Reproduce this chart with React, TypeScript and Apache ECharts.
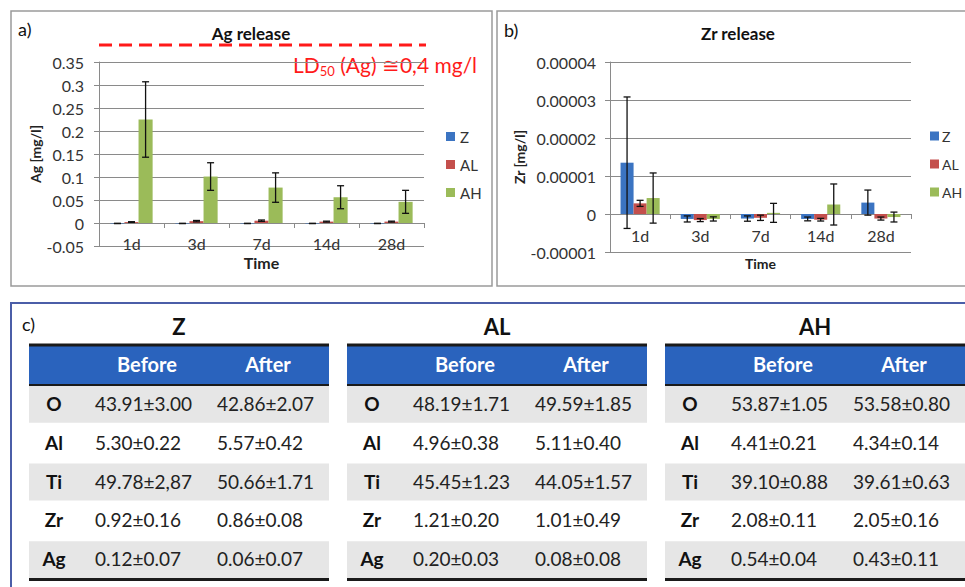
import React, { useEffect, useRef } from "react";
import * as echarts from "echarts";

const FONT = "Lato, 'Liberation Sans', sans-serif";

// ---- Chart data ----
const days = ["1d", "3d", "7d", "14d", "28d"];
const seriesNames = ["Z", "AL", "AH"];
const seriesColors = ["#3B74C2", "#C44F4C", "#9BBB59"];

// Ag release [mg/l]
const agZ = [-0.001, -0.001, -0.001, -0.001, -0.001];
const agZErr = [0.0003, 0.0003, 0.0003, 0.0003, 0.0003];
const agAL = [0.002, 0.004, 0.005, 0.003, 0.003];
const agALErr = [0.0008, 0.0015, 0.0015, 0.001, 0.001];
const agAH = [0.225, 0.101, 0.077, 0.056, 0.046];
const agAHErr = [0.082, 0.03, 0.032, 0.025, 0.025];
const agTicks = { min: -0.05, max: 0.35, interval: 0.05 };
const ld50Value = 0.387;

// Zr release [mg/l]
const zrZ = [1.35e-5, -0.13e-5, -0.12e-5, -0.13e-5, 0.3e-5];
const zrZErr = [1.73e-5, 0.08e-5, 0.07e-5, 0.05e-5, 0.33e-5];
const zrAL = [0.28e-5, -0.16e-5, -0.1e-5, -0.15e-5, -0.12e-5];
const zrALErr = [0.08e-5, 0.04e-5, 0.07e-5, 0.035e-5, 0.04e-5];
const zrAH = [0.42e-5, -0.13e-5, 0.03e-5, 0.25e-5, -0.08e-5];
const zrAHErr = [0.66e-5, 0.055e-5, 0.25e-5, 0.54e-5, 0.13e-5];
const zrTicks = { min: -0.00001, max: 0.00004, interval: 0.00001 };

// ---- Table data ----
const elements = ["O", "Al", "Ti", "Zr", "Ag"];
const tableHeaders = ["Before", "After"];
const tableTitles = ["Z", "AL", "AH"];
const zBefore = ["43.91±3.00", "5.30±0.22", "49.78±2,87", "0.92±0.16", "0.12±0.07"];
const zAfter = ["42.86±2.07", "5.57±0.42", "50.66±1.71", "0.86±0.08", "0.06±0.07"];
const alBefore = ["48.19±1.71", "4.96±0.38", "45.45±1.23", "1.21±0.20", "0.20±0.03"];
const alAfter = ["49.59±1.85", "5.11±0.40", "44.05±1.57", "1.01±0.49", "0.08±0.08"];
const ahBefore = ["53.87±1.05", "4.41±0.21", "39.10±0.88", "2.08±0.11", "0.54±0.04"];
const ahAfter = ["53.58±0.80", "4.34±0.14", "39.61±0.63", "2.05±0.16", "0.43±0.11"];

const GRIDC = "#8a8a8a";
const TXT = "#333";
const CAT_GAP = 0.35;

function errRender(idx: number) {
  return (params: any, api: any) => {
    const c = api.value(0);
    const lo = api.coord([c, api.value(1)]);
    const hi = api.coord([c, api.value(2)]);
    const band = api.size([1, 0])[0];
    const group = band * (1 - CAT_GAP);
    const bw = group / 3;
    const x = lo[0] - group / 2 + bw * (idx + 0.5);
    const cap = 3.5;
    const st = { stroke: "#111", lineWidth: 1.3 };
    return {
      type: "group",
      children: [
        { type: "line", shape: { x1: x, y1: hi[1], x2: x, y2: lo[1] }, style: st },
        { type: "line", shape: { x1: x - cap, y1: hi[1], x2: x + cap, y2: hi[1] }, style: st },
        { type: "line", shape: { x1: x - cap, y1: lo[1], x2: x + cap, y2: lo[1] }, style: st },
      ],
    };
  };
}

function buildSeries(vals: number[][], errs: number[][], gi: number) {
  const out: any[] = [];
  vals.forEach((v, i) => {
    out.push({
      type: "bar",
      name: seriesNames[i],
      xAxisIndex: gi,
      yAxisIndex: gi,
      data: v,
      barGap: "0%",
      barCategoryGap: CAT_GAP * 100 + "%",
      itemStyle: { color: seriesColors[i] },
    });
  });
  vals.forEach((v, i) => {
    out.push({
      type: "custom",
      name: seriesNames[i] + " err" + gi,
      xAxisIndex: gi,
      yAxisIndex: gi,
      z: 5,
      encode: { x: 0, y: [1, 2] },
      data: v.map((y, k) => [k, y - errs[i][k], y + errs[i][k]]),
      renderItem: errRender(i),
    });
  });
  return out;
}

function tableGraphics() {
  const cols = [
    [zBefore, zAfter],
    [alBefore, alAfter],
    [ahBefore, ahAfter],
  ];
  const lefts = [29, 347, 665];
  const W = 300;
  const g: any[] = [];
  const rowTop = 385;
  const pitch = 38.8;
  cols.forEach((tc, t) => {
    const x0 = lefts[t];
    g.push({
      type: "text",
      x: x0 + 150,
      y: 326,
      style: { text: tableTitles[t], font: `bold 22px ${FONT}`, fill: "#111", align: "center", verticalAlign: "middle" },
    });
    g.push({ type: "rect", shape: { x: x0, y: 346, width: W, height: 38 }, style: { fill: "#2A63BD" } });
    for (let r = 0; r < elements.length; r++) {
      if (r % 2 === 0) {
        g.push({
          type: "rect",
          shape: { x: x0, y: rowTop + pitch * r + 1, width: W, height: pitch - 2 },
          style: { fill: "#E6E6E6" },
        });
      }
      const cy = 403.5 + pitch * r;
      g.push({
        type: "text",
        x: x0 + 25,
        y: cy,
        style: { text: elements[r], font: `bold 19px ${FONT}`, fill: "#111", align: "center", verticalAlign: "middle" },
      });
      g.push({
        type: "text",
        x: x0 + 66,
        y: cy,
        style: { text: tc[0][r], font: `19px ${FONT}`, fill: "#222", align: "left", verticalAlign: "middle" },
      });
      g.push({
        type: "text",
        x: x0 + 188,
        y: cy,
        style: { text: tc[1][r], font: `19px ${FONT}`, fill: "#222", align: "left", verticalAlign: "middle" },
      });
    }
    g.push({
      type: "text",
      x: x0 + 118,
      y: 364,
      style: { text: tableHeaders[0], font: `bold 20px ${FONT}`, fill: "#fff", align: "center", verticalAlign: "middle" },
    });
    g.push({
      type: "text",
      x: x0 + 239,
      y: 364,
      style: { text: tableHeaders[1], font: `bold 20px ${FONT}`, fill: "#fff", align: "center", verticalAlign: "middle" },
    });
    g.push({ type: "line", shape: { x1: x0, y1: 345, x2: x0 + W, y2: 345 }, style: { stroke: "#1a1a1a", lineWidth: 3 } });
    g.push({ type: "line", shape: { x1: x0, y1: 385, x2: x0 + W, y2: 385 }, style: { stroke: "#1a1a1a", lineWidth: 2 } });
    g.push({ type: "line", shape: { x1: x0, y1: 579.5, x2: x0 + W, y2: 579.5 }, style: { stroke: "#1a1a1a", lineWidth: 3 } });
  });
  return g;
}

function yAxisCfg(gi: number, ticks: any, name: string, gap: number, margin: number, fmt: (v: number) => string) {
  return {
    type: "value",
    gridIndex: gi,
    min: ticks.min,
    max: ticks.max,
    interval: ticks.interval,
    name,
    nameLocation: "middle",
    nameGap: gap,
    nameTextStyle: { fontFamily: FONT, fontWeight: "bold", fontSize: 14, color: "#222" },
    axisLine: { show: true, lineStyle: { color: GRIDC, width: 1 } },
    axisTick: { show: true, length: 5, lineStyle: { color: GRIDC } },
    splitLine: { show: true, lineStyle: { color: GRIDC, width: 1 } },
    axisLabel: { fontFamily: FONT, fontSize: 16, color: TXT, margin, formatter: fmt },
  };
}

function xAxisCfg(gi: number, nameGap: number, nameSize: number, margin: number) {
  return {
    type: "category",
    gridIndex: gi,
    data: days,
    name: "Time",
    nameLocation: "middle",
    nameGap,
    nameTextStyle: { fontFamily: FONT, fontWeight: "bold", fontSize: nameSize, color: "#222" },
    axisLine: { onZero: true, lineStyle: { color: GRIDC, width: 1.2 } },
    axisTick: { show: true, length: 5, lineStyle: { color: GRIDC } },
    axisLabel: { fontFamily: FONT, fontSize: 16, color: TXT, margin },
  };
}

export default function App() {
  const ref = useRef<HTMLDivElement>(null);
  useEffect(() => {
    if (!ref.current) return;
    const chart = echarts.init(ref.current, null, { renderer: "svg" });
    const ld50Y = 62 + ((agTicks.max - ld50Value) / (agTicks.max - agTicks.min)) * 184;
    const legendBase = {
      data: seriesNames,
      orient: "vertical",
      top: 129,
      padding: 0,
      itemWidth: 9,
      itemHeight: 9,
      itemGap: 13,
      icon: "rect",
      selectedMode: false,
      textStyle: { fontFamily: FONT, fontSize: 15, color: TXT },
    };
    const option: any = {
      animation: false,
      backgroundColor: "#fff",
      textStyle: { fontFamily: FONT },
      grid: [
        { left: 99, top: 62, width: 325, height: 184 },
        { left: 610, top: 62, width: 301, height: 190 },
      ],
      xAxis: [xAxisCfg(0, 8, 16, -11), xAxisCfg(1, 4, 14, -25)],
      yAxis: [
        yAxisCfg(0, agTicks, "Ag [mg/l]", 54, 15, (v: number) => String(parseFloat(v.toFixed(2)))),
        yAxisCfg(1, zrTicks, "Zr [mg/l]", 78, 14, (v: number) => (Math.abs(v) < 1e-12 ? "0" : v.toFixed(5))),
      ],
      legend: [
        { ...legendBase, left: 446 },
        {
          ...legendBase,
          left: 930,
          itemGap: 14,
          textStyle: { fontFamily: FONT, fontSize: 14, color: TXT, padding: [0, 0, 0, -2] },
        },
      ],
      series: [
        ...buildSeries([agZ, agAL, agAH], [agZErr, agALErr, agAHErr], 0),
        ...buildSeries([zrZ, zrAL, zrAH], [zrZErr, zrALErr, zrAHErr], 1),
      ],
      graphic: [
        { type: "rect", shape: { x: 11, y: 11, width: 481, height: 275 }, style: { fill: "none", stroke: "#9a9a9a", lineWidth: 1.5 } },
        { type: "rect", shape: { x: 497, y: 11, width: 490, height: 275 }, style: { fill: "none", stroke: "#9a9a9a", lineWidth: 1.5 } },
        { type: "rect", shape: { x: 11, y: 303, width: 980, height: 300 }, style: { fill: "none", stroke: "#4B5EA8", lineWidth: 2 } },
        { type: "text", x: 18, y: 29, style: { text: "a)", font: `18px ${FONT}`, fill: "#111", verticalAlign: "middle" } },
        { type: "text", x: 504, y: 30, style: { text: "b)", font: `18px ${FONT}`, fill: "#111", verticalAlign: "middle" } },
        { type: "text", x: 22, y: 324, style: { text: "c)", font: `18px ${FONT}`, fill: "#111", verticalAlign: "middle" } },
        { type: "text", x: 251, y: 33, style: { text: "Ag release", font: `bold 17px ${FONT}`, fill: "#111", align: "center", verticalAlign: "middle" } },
        { type: "text", x: 738, y: 33, style: { text: "Zr release", font: `bold 17px ${FONT}`, fill: "#111", align: "center", verticalAlign: "middle" } },
        {
          type: "line",
          shape: { x1: 99, y1: ld50Y, x2: 426, y2: ld50Y },
          style: { stroke: "#FF1A1A", lineWidth: 3, lineDash: [13, 7] },
        },
        {
          type: "text",
          x: 293,
          y: 64,
          z: -1,
          style: {
            text: "{a|LD}{s|50}{a| (Ag) ≅0,4 mg/l}",
            verticalAlign: "middle",
            rich: {
              a: { fontFamily: FONT, fontSize: 21, fill: "#FF1A1A", color: "#FF1A1A", lineHeight: 26 },
              s: { fontFamily: FONT, fontSize: 13, fill: "#FF1A1A", color: "#FF1A1A", lineHeight: 13, verticalAlign: "bottom" },
            },
          },
        },
        ...tableGraphics(),
      ],
    };
    chart.setOption(option);
    return () => chart.dispose();
  }, []);
  return (
    <div
      ref={ref}
      style={{ position: "fixed", left: 0, top: 0, width: 965, height: 587, background: "#fff" }}
    />
  );
}
